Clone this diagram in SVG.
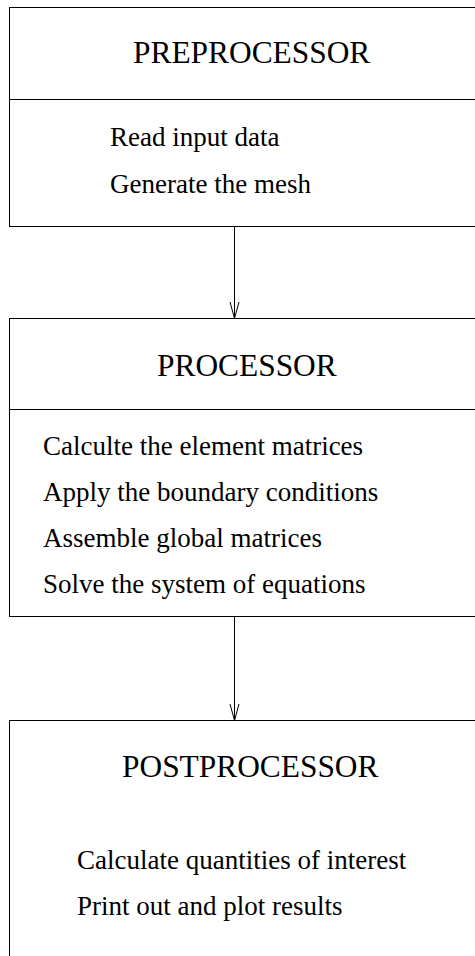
<svg xmlns="http://www.w3.org/2000/svg" width="475" height="956" viewBox="0 0 475 956">
<style>
.box{fill:#fff;stroke:#000;stroke-width:1}
.line{stroke:#000;stroke-width:1;fill:none}
.title{font-family:"Liberation Serif","Times New Roman",serif;font-size:31.4px;fill:#000}
.body{font-family:"Liberation Serif","Times New Roman",serif;font-size:27px;fill:#000}
</style>
<rect width="475" height="956" fill="#fff"/>
<g id="preprocessor">
<rect class="box" x="9.5" y="7.5" width="500" height="219"/>
<line class="line" x1="9.5" y1="99.5" x2="475" y2="99.5"/>
<text class="title" x="133" y="63">PREPROCESSOR</text>
<text class="body" x="110" y="146">Read input data</text>
<text class="body" x="110" y="193">Generate the mesh</text>
</g>
<g id="processor">
<rect class="box" x="9.5" y="318.5" width="500" height="298"/>
<line class="line" x1="9.5" y1="409.5" x2="475" y2="409.5"/>
<text class="title" x="157" y="376">PROCESSOR</text>
<text class="body" x="43" y="455">Calculte the element matrices</text>
<text class="body" x="43" y="501">Apply the boundary conditions</text>
<text class="body" x="43" y="547">Assemble global matrices</text>
<text class="body" x="43" y="593">Solve the system of equations</text>
</g>
<g id="postprocessor">
<rect class="box" x="9.5" y="720.5" width="500" height="300"/>
<text class="title" x="122" y="777">POSTPROCESSOR</text>
<text class="body" x="77" y="869">Calculate quantities of interest</text>
<text class="body" x="77" y="915">Print out and plot results</text>
</g>
<g id="connectors">
<line class="line" x1="234.5" y1="226.5" x2="234.5" y2="318.5"/>
<polyline class="line" points="230,302 234.5,318.5 239,302"/>
<line class="line" x1="234.5" y1="616.5" x2="234.5" y2="720.5"/>
<polyline class="line" points="230,704 234.5,720.5 239,704"/>
</g>
</svg>
